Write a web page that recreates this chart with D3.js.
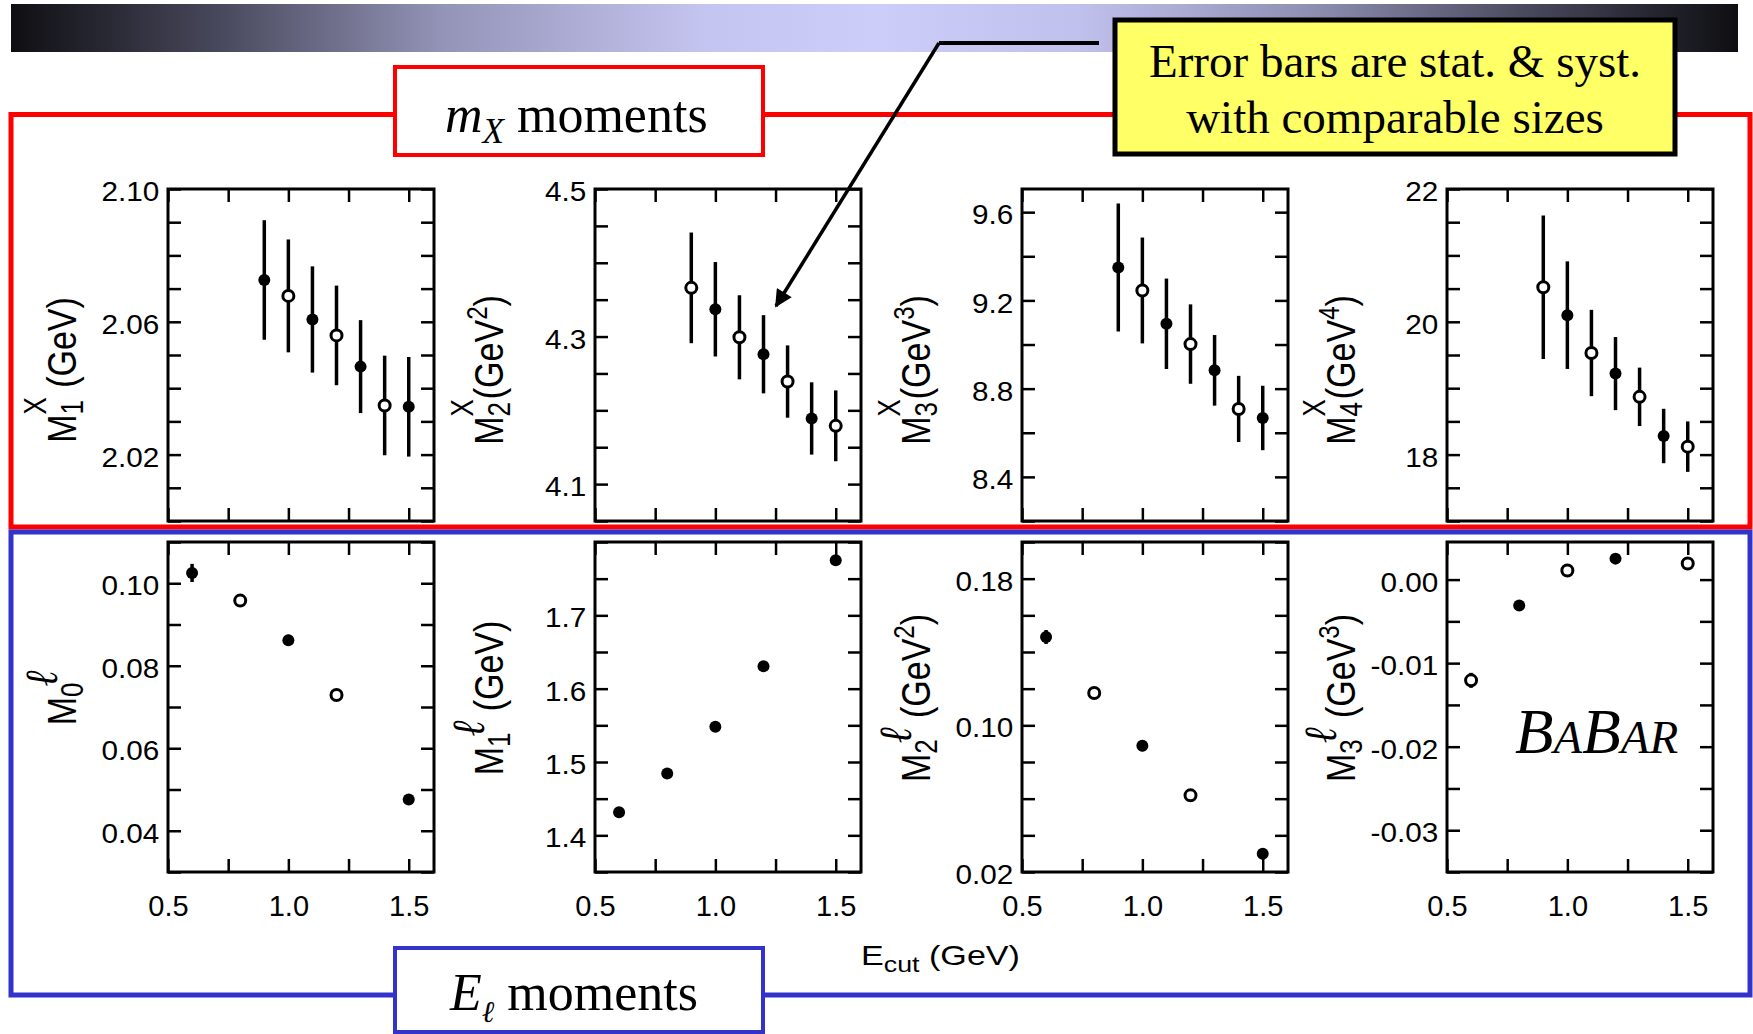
<!DOCTYPE html>
<html>
<head>
<meta charset="utf-8">
<script src="https://d3js.org/d3.v7.min.js"></script>
<style>
  body { margin: 0; background: #fff; }
  svg { display: block; }
  text { font-family: "Liberation Sans", Arial, sans-serif; }
  .serif { font-family: "Liberation Serif", "Times New Roman", serif; }
</style>
</head>
<body>
<svg id="chart" width="1753" height="1034"></svg>
<script>
// ---- data ----
var ecutX = [0.9, 1.0, 1.1, 1.2, 1.3, 1.4, 1.5];   // m_X moments
var ecutL = [0.6, 0.8, 1.0, 1.2, 1.5];             // E_l moments

var m1x    = [2.0726, 2.0678, 2.0607, 2.0559, 2.0465, 2.0348, 2.0344];
var m1xErr = [0.018, 0.017, 0.016, 0.015, 0.014, 0.015, 0.015];
var m2x    = [4.366, 4.337, 4.299, 4.276, 4.239, 4.189, 4.179];
var m2xErr = [0.075, 0.064, 0.057, 0.053, 0.049, 0.049, 0.048];
var m3x    = [9.349, 9.245, 9.094, 9.002, 8.883, 8.708, 8.667];
var m3xErr = [0.29, 0.24, 0.205, 0.18, 0.16, 0.15, 0.146];
var m4x    = [20.52, 20.10, 19.53, 19.22, 18.87, 18.28, 18.12];
var m4xErr = [1.08, 0.81, 0.65, 0.55, 0.44, 0.41, 0.38];

var m0l    = [0.1025, 0.0958, 0.0862, 0.0729, 0.0476];
var m0lErr = [0.0022, 0.0014, 0.0013, 0.0011, 0.0008];
var m1l    = [1.4316, 1.4843, 1.548, 1.6305, 1.775];
var m1lErr = [0.003, 0.003, 0.003, 0.004, 0.005];
var m2l    = [0.1482, 0.1176, 0.0889, 0.0618, 0.030];
var m2lErr = [0.0038, 0.003, 0.003, 0.003, 0.003];
var m3l    = [-0.01206, -0.0031, 0.00108, 0.00251, 0.00192];
var m3lErr = [0.0009, 0.0006, 0.0005, 0.0005, 0.0005];

// 1 = open circle, 0 = filled
var openA = [0, 1, 0, 1, 0, 1, 0];
var openB = [1, 0, 1, 0, 1, 0, 1];
var openL = [0, 1, 0, 1, 0];
var openNone = [0, 0, 0, 0, 0];
var openL3 = [1, 0, 1, 0, 1];

// axis ranges, minor tick step and labelled ticks
var yDomains = [[2.00, 2.10], [4.05, 4.50], [8.2, 9.705], [17, 22],
                [0.03, 0.11], [1.35, 1.80], [0.02, 0.20], [-0.035, 0.0045]];
var yStart   = [2.00, 4.05, 8.2, 17, 0.03, 1.35, 0.02, -0.035];
var ySteps   = [0.01, 0.05, 0.2, 0.5, 0.01, 0.05, 0.02, 0.005];
var yLabels  = [[2.02, 2.06, 2.10], [4.1, 4.3, 4.5], [8.4, 8.8, 9.2, 9.6], [18, 20, 22],
                [0.04, 0.06, 0.08, 0.10], [1.4, 1.5, 1.6, 1.7], [0.02, 0.10, 0.18], [0, -0.01, -0.02, -0.03]];
var yFormats = [".2f", ".1f", ".1f", "d", ".2f", ".1f", ".2f", ".2f"];
var xTicks   = [0.5, 0.75, 1.0, 1.25, 1.5];
var xLabels  = [0.5, 1.0, 1.5];

// y titles: subscript, superscript, unit, unit power
var titleSub  = ["1", "2", "3", "4", "0", "1", "2", "3"];
var titleSup  = ["X", "X", "X", "X", "\u2113", "\u2113", "\u2113", "\u2113"];
var titleUnit = [" (GeV", "(GeV", "(GeV", "(GeV", "", " (GeV", " (GeV", " (GeV"];
var titlePow  = ["", "2", "3", "4", "", "", "2", "3"];

var panels = [
  {x: ecutX, y: m1x, e: m1xErr, open: openA},
  {x: ecutX, y: m2x, e: m2xErr, open: openB},
  {x: ecutX, y: m3x, e: m3xErr, open: openA},
  {x: ecutX, y: m4x, e: m4xErr, open: openB},
  {x: ecutL, y: m0l, e: m0lErr, open: openL},
  {x: ecutL, y: m1l, e: m1lErr, open: openNone},
  {x: ecutL, y: m2l, e: m2lErr, open: openL},
  {x: ecutL, y: m3l, e: m3lErr, open: openL3}
];

// ---- layout ----
var svg = d3.select("#chart");
var lefts = [168, 595, 1022, 1447], pw = 266;
var tops = [189, 542], heights = [332, 330];
var titleMid = [370, 698];

// banner
var defs = svg.append("defs");
var grad = defs.append("linearGradient").attr("id", "banner");
[[0, "#0e0e12"], [0.12, "#48485c"], [0.25, "#9494b8"], [0.4, "#c4c4f0"], [0.5, "#cdcdf9"],
 [0.62, "#c0c0ec"], [0.75, "#9090b4"], [0.88, "#48485c"], [1, "#0e0e12"]].forEach(function(s) {
  grad.append("stop").attr("offset", s[0]).attr("stop-color", s[1]);
});
svg.append("rect").attr("x", 11).attr("y", 4).attr("width", 1727).attr("height", 48)
  .attr("fill", "url(#banner)");

defs.append("marker").attr("id", "head")
  .attr("viewBox", "0 0 10 10").attr("refX", 9).attr("refY", 5)
  .attr("markerWidth", 6).attr("markerHeight", 5).attr("orient", "auto")
  .append("path").attr("d", "M0,0 L10,5 L0,10 Z").attr("fill", "#000");

// group frames
svg.append("rect").attr("x", 11).attr("y", 114.5).attr("width", 1739).attr("height", 412.5)
  .attr("fill", "none").attr("stroke", "#ff0000").attr("stroke-width", 5);
svg.append("rect").attr("x", 11).attr("y", 532).attr("width", 1739).attr("height", 463)
  .attr("fill", "none").attr("stroke", "#3333cc").attr("stroke-width", 5);

function fmtY(i) {
  var f = d3.format(yFormats[i]);
  return function(v) {
    var hit = yLabels[i].some(function(l) { return Math.abs(l - v) < 1e-9; });
    return hit ? f(v).replace("\u2212", "-") : "";
  };
}

panels.forEach(function(p, i) {
  var col = i % 4, row = Math.floor(i / 4);
  var left = lefts[col], top = tops[row], h = heights[row];
  var x = d3.scaleLinear().domain([0.5, 1.605]).range([left, left + pw]);
  var y = d3.scaleLinear().domain(yDomains[i]).range([top + h, top]);
  var g = svg.append("g");

  var n = Math.floor((yDomains[i][1] - yStart[i]) / ySteps[i] + 1e-6);
  var yt = d3.range(n + 1).map(function(k) { return +(yStart[i] + k * ySteps[i]).toFixed(5); });

  var axL = g.append("g").attr("transform", "translate(" + left + ",0)")
    .call(d3.axisLeft(y).tickValues(yt).tickSize(-13).tickPadding(8).tickFormat(fmtY(i)));
  var axR = g.append("g").attr("transform", "translate(" + (left + pw) + ",0)")
    .call(d3.axisRight(y).tickValues(yt).tickSize(-13).tickFormat(""));
  var axB = g.append("g").attr("transform", "translate(0," + (top + h) + ")")
    .call(d3.axisBottom(x).tickValues(xTicks).tickSize(-13).tickPadding(23)
      .tickFormat(function(v) {
        return row === 1 && xLabels.indexOf(v) >= 0 ? d3.format(".1f")(v) : "";
      }));
  var axT = g.append("g").attr("transform", "translate(0," + top + ")")
    .call(d3.axisTop(x).tickValues(xTicks).tickSize(-13).tickFormat(""));

  [axL, axR, axB, axT].forEach(function(a) {
    a.select(".domain").remove();
    a.selectAll(".tick line").attr("stroke", "#000").attr("stroke-width", 2.5);
  });
  axL.selectAll(".tick text").attr("font-size", 27).attr("fill", "#000")
    .attr("font-family", "Liberation Sans, Arial, sans-serif").attr("dy", "0.43em")
    .attr("transform", "scale(1.1,1)");
  axB.selectAll(".tick text").attr("font-size", 29).attr("fill", "#000")
    .attr("font-family", "Liberation Sans, Arial, sans-serif");

  g.append("rect").attr("x", left).attr("y", top).attr("width", pw).attr("height", h)
    .attr("fill", "none").attr("stroke", "#000").attr("stroke-width", 3);

  var pts = p.x.map(function(xv, k) { return {x: xv, y: p.y[k], e: p.e[k], open: p.open[k]}; });
  g.selectAll("line.err").data(pts).enter().append("line")
    .attr("class", "err")
    .attr("x1", function(d) { return x(d.x); })
    .attr("x2", function(d) { return x(d.x); })
    .attr("y1", function(d) { return y(d.y - d.e); })
    .attr("y2", function(d) { return y(d.y + d.e); })
    .attr("stroke", "#000").attr("stroke-width", 3.5);
  var r = 6;
  g.selectAll("circle").data(pts).enter().append("circle")
    .attr("cx", function(d) { return x(d.x); })
    .attr("cy", function(d) { return y(d.y); })
    .attr("r", function(d) { return d.open ? r - 0.5 : r; })
    .attr("fill", function(d) { return d.open ? "#fff" : "#000"; })
    .attr("stroke", "#000").attr("stroke-width", function(d) { return d.open ? 3 : 0; });

  // rotated y title, stretched across the text like the source figure
  var t = g.append("text")
    .attr("transform", "translate(" + (left - 92) + "," + titleMid[row] + ") scale(1.2,1) rotate(-90)")
    .attr("text-anchor", "middle").attr("font-size", 34).attr("fill", "#000");
  t.append("tspan").text("M");
  t.append("tspan").attr("font-size", 26).attr("dy", 6).text(titleSub[i]);
  var supT = t.append("tspan").text(titleSup[i]);
  if (row === 0) {
    supT.attr("font-size", 26).attr("dx", -14.5).attr("dy", -31);
  } else {
    supT.style("font-size", "38px").style("font-family", "'Liberation Serif', serif")
      .style("font-style", "italic").attr("dx", -4).attr("dy", -22);
  }
  if (titleUnit[i]) {
    t.append("tspan").attr("dy", row === 0 ? 25 : 16).text(titleUnit[i]);
    if (titlePow[i]) {
      t.append("tspan").attr("font-size", 24).attr("dy", -13).text(titlePow[i]);
      t.append("tspan").attr("dy", 13).text(")");
    } else {
      t.append("tspan").text(")");
    }
  }
});

// E_cut axis title
var ec = svg.append("text").attr("x", 861).attr("y", 965).attr("font-size", 28)
  .attr("textLength", 159).attr("lengthAdjust", "spacingAndGlyphs").attr("fill", "#000");
ec.append("tspan").text("E");
ec.append("tspan").attr("font-size", 22).attr("dy", 7).text("cut");
ec.append("tspan").attr("dy", -7).text(" (GeV)");

// BABAR logo
var bb = svg.append("text").attr("class", "serif").attr("x", 1515).attr("y", 753)
  .attr("font-style", "italic").attr("fill", "#000").attr("font-size", 63);
bb.append("tspan").text("B");
bb.append("tspan").attr("font-size", 47).text("A");
bb.append("tspan").text("B");
bb.append("tspan").attr("font-size", 47).text("AR");

// section title boxes
svg.append("rect").attr("x", 395).attr("y", 67).attr("width", 368).attr("height", 88)
  .attr("fill", "#fff").attr("stroke", "#ff0000").attr("stroke-width", 4);
var mt = svg.append("text").attr("class", "serif").attr("x", 445).attr("y", 132)
  .attr("font-size", 52).attr("fill", "#000");
mt.append("tspan").attr("font-style", "italic").text("m");
mt.append("tspan").attr("font-style", "italic").attr("font-size", 35).attr("dy", 11).text("X");
mt.append("tspan").attr("dy", -11).text(" moments");

svg.append("rect").attr("x", 395).attr("y", 948).attr("width", 368).attr("height", 84)
  .attr("fill", "#fff").attr("stroke", "#3333cc").attr("stroke-width", 4);
var et = svg.append("text").attr("class", "serif").attr("x", 450).attr("y", 1010)
  .attr("font-size", 52).attr("fill", "#000");
et.append("tspan").attr("font-style", "italic").text("E");
et.append("tspan").attr("font-style", "italic").attr("font-size", 30).attr("dy", 12).text("\u2113");
et.append("tspan").attr("dy", -12).text(" moments");

// annotation
svg.append("rect").attr("x", 1115).attr("y", 20).attr("width", 560).attr("height", 134)
  .attr("fill", "#ffff66").attr("stroke", "#000").attr("stroke-width", 5);
svg.append("text").attr("class", "serif").attr("x", 1395).attr("y", 77)
  .attr("text-anchor", "middle").attr("font-size", 47).attr("fill", "#000")
  .text("Error bars are stat. & syst.");
svg.append("text").attr("class", "serif").attr("x", 1395).attr("y", 133)
  .attr("text-anchor", "middle").attr("font-size", 47).attr("fill", "#000")
  .text("with comparable sizes");
svg.append("line").attr("x1", 1099).attr("y1", 43).attr("x2", 939).attr("y2", 43)
  .attr("stroke", "#000").attr("stroke-width", 4);
svg.append("line").attr("x1", 939).attr("y1", 43).attr("x2", 776).attr("y2", 306)
  .attr("stroke", "#000").attr("stroke-width", 3.5).attr("marker-end", "url(#head)");
</script>
</body>
</html>
